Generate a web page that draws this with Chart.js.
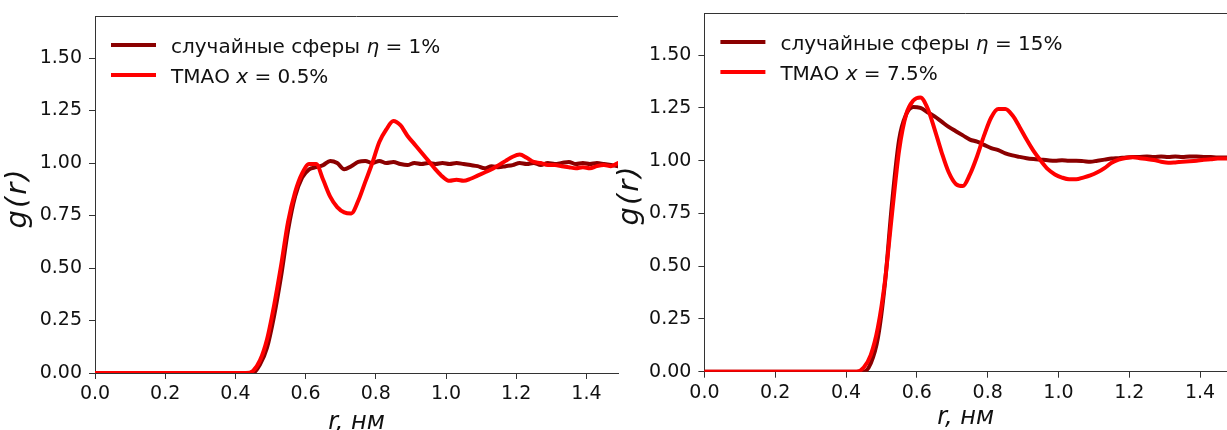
<!DOCTYPE html>
<html>
<head>
<meta charset="utf-8">
<title>g(r) – случайные сферы и ТМАО</title>
<script src="https://cdn.jsdelivr.net/npm/chart.js@4.4.1/dist/chart.umd.min.js"></script>
<style>
  html, body { margin: 0; padding: 0; background: #fff; }
  #wrap { position: relative; width: 1227px; height: 430px; overflow: hidden; }
  canvas { position: absolute; top: 0; }
  #left  { left: 0; }
  #right { left: 610px; }
</style>
</head>
<body>
<div id="wrap">
  <canvas id="left" width="620" height="430"></canvas>
  <canvas id="right" width="617" height="430"></canvas>
</div>
<script>
'use strict';

// ── Data ──────────────────────────────────────────────────────
const R_NM = [
  0, 0.1, 0.2, 0.3, 0.4, 0.43,
  0.45, 0.47, 0.49, 0.51, 0.53, 0.55, 0.57, 0.59, 0.61, 0.63,
  0.65, 0.67, 0.69, 0.71, 0.73, 0.75, 0.77, 0.79, 0.81, 0.83,
  0.85, 0.87, 0.89, 0.91, 0.93, 0.95, 0.97, 0.99, 1.01, 1.03,
  1.05, 1.07, 1.09, 1.11, 1.13, 1.15, 1.17, 1.19, 1.21, 1.23,
  1.25, 1.27, 1.29, 1.31, 1.33, 1.35, 1.37, 1.39, 1.41, 1.43,
  1.45, 1.47, 1.49,
];

// left panel: random spheres eta = 1%, TMAO x = 0.5%
const G_SPHERES_1 = [
  0, 0, 0, 0, 0, 0,
  0.0, 0.04, 0.12, 0.27, 0.46, 0.68, 0.84, 0.93, 0.97, 0.98,
  0.99, 1.01, 1.0, 0.97, 0.985, 1.005, 1.01, 1.0, 1.01, 1.0,
  1.005, 0.995, 0.99, 1.0, 0.995, 1.0, 0.995, 1.0, 0.995, 1.0,
  0.995, 0.99, 0.985, 0.975, 0.985, 0.98, 0.985, 0.99, 1.0, 0.995,
  1.0, 0.99, 1.0, 0.995, 1.0, 1.005, 0.995, 1.0, 0.995, 1.0,
  0.995, 0.99, 0.985,
];
const G_TMAO_05 = [
  0, 0, 0, 0, 0, 0,
  0.01, 0.06, 0.16, 0.32, 0.51, 0.72, 0.86, 0.95, 0.995, 0.995,
  0.92, 0.84, 0.79, 0.765, 0.76, 0.82, 0.91, 1.0, 1.10, 1.16,
  1.20, 1.18, 1.13, 1.09, 1.05, 1.01, 0.97, 0.935, 0.915, 0.92,
  0.915, 0.925, 0.94, 0.955, 0.97, 0.99, 1.01, 1.03, 1.04, 1.025,
  1.005, 1.0, 0.99, 0.99, 0.985, 0.98, 0.975, 0.98, 0.975, 0.985,
  0.99, 0.985, 1.0,
];

// right panel: random spheres eta = 15%, TMAO x = 7.5%
const G_SPHERES_15 = [
  0, 0, 0, 0, 0, 0,
  0.0, 0.04, 0.16, 0.42, 0.80, 1.10, 1.22, 1.255, 1.25, 1.23,
  1.21, 1.185, 1.16, 1.14, 1.12, 1.10, 1.09, 1.075, 1.06, 1.05,
  1.035, 1.025, 1.018, 1.012, 1.008, 1.005, 1.002, 1.0, 1.002, 1.0,
  1.0, 0.998, 0.995, 1.0, 1.005, 1.01, 1.012, 1.015, 1.017, 1.018,
  1.02, 1.018, 1.02, 1.017, 1.02, 1.018, 1.02, 1.02, 1.018, 1.017,
  1.015, 1.015, 1.015,
];
const G_TMAO_75 = [
  0, 0, 0, 0, 0, 0,
  0.02, 0.08, 0.21, 0.43, 0.75, 1.05, 1.22, 1.285, 1.30, 1.25,
  1.15, 1.04, 0.945, 0.89, 0.88, 0.935, 1.02, 1.12, 1.205, 1.245,
  1.245, 1.215, 1.16, 1.10, 1.045, 1.0, 0.96, 0.935, 0.92, 0.912,
  0.912, 0.92, 0.93, 0.945, 0.965, 0.99, 1.005, 1.013, 1.016, 1.012,
  1.008, 1.003, 0.995, 0.99, 0.992, 0.995, 0.997, 1.0, 1.005, 1.007,
  1.01, 1.01, 1.01,
];

const X_TICKS = [0, 0.2, 0.4, 0.6, 0.8, 1.0, 1.2, 1.4];
const Y_TICKS = [0, 0.25, 0.5, 0.75, 1.0, 1.25, 1.5];

const LEGEND_LEFT  = [['случайные сферы ', 'η', ' = 1%'], ['ТМАО ', 'x', ' = 0.5%']];
const LEGEND_RIGHT = [['случайные сферы ', 'η', ' = 15%'], ['ТМАО ', 'x', ' = 7.5%']];

const X_TITLE = 'r, нм';
const Y_TITLE = 'g(r)';

// ── Styles ────────────────────────────────────────────────────
const DARK  = '#8b0000';
const RED   = '#ff0000';
const AXIS  = '#333333';
const TEXT  = '#111111';
const FONT  = '"DejaVu Sans", sans-serif';

function pts(xs, ys) { return xs.map((x, i) => ({ x, y: ys[i] })); }

// top spine, axis titles and the mixed-style legend
const panelDecor = {
  id: 'panelDecor',
  afterDraw(chart, args, o) {
    const { ctx, chartArea: a } = chart;
    ctx.save();
    ctx.strokeStyle = AXIS;
    ctx.lineWidth = 1;
    ctx.beginPath();
    ctx.moveTo(a.left, Math.round(a.top) + 0.5);
    ctx.lineTo(a.right, Math.round(a.top) + 0.5);
    ctx.stroke();

    ctx.fillStyle = TEXT;
    ctx.textAlign = 'center';
    ctx.textBaseline = 'alphabetic';
    ctx.font = `italic 24px ${FONT}`;
    ctx.fillText(X_TITLE, (a.left + a.right) / 2, o.xTitleY);

    ctx.save();
    ctx.translate(o.yTitleX, o.yTitleY);
    ctx.rotate(-Math.PI / 2);
    ctx.textBaseline = 'middle';
    ctx.font = `italic 29px ${FONT}`;
    ctx.letterSpacing = '2px';
    ctx.fillText(Y_TITLE, 0, 0);
    ctx.restore();

    // legend
    const colors = [DARK, RED];
    ctx.lineWidth = 4;
    ctx.textAlign = 'left';
    o.legend.forEach((parts, i) => {
      const y = a.top + 29 + i * 30;
      ctx.strokeStyle = colors[i];
      ctx.beginPath();
      ctx.moveTo(a.left + 16, y);
      ctx.lineTo(a.left + 61, y);
      ctx.stroke();
      let x = a.left + 76;
      parts.forEach((t, k) => {
        ctx.font = (k === 1 ? 'italic ' : '') + `20px ${FONT}`;
        ctx.fillText(t, x, y + 7.5);
        x += ctx.measureText(t).width;
      });
    });
    ctx.restore();
  },
};

function buildPanel(canvasId, cfg) {
  const ctx = document.getElementById(canvasId).getContext('2d');
  return new Chart(ctx, {
    type: 'line',
    data: {
      datasets: [
        { label: cfg.legend[0].join(''), data: pts(R_NM, cfg.spheres), borderColor: DARK, order: 1 },
        { label: cfg.legend[1].join(''), data: pts(R_NM, cfg.tmao),    borderColor: RED,  order: 0 },
      ],
    },
    options: {
      responsive: false,
      animation: false,
      devicePixelRatio: 1,
      layout: { padding: { top: cfg.top, right: cfg.right, left: 0, bottom: 0 } },
      elements: {
        point: { radius: 0 },
        line: { borderWidth: 4, cubicInterpolationMode: 'monotone', borderJoinStyle: 'round', borderCapStyle: 'round', fill: false },
      },
      plugins: {
        legend: { display: false },
        tooltip: { enabled: false },
        panelDecor: { legend: cfg.legend, xTitleY: cfg.xTitleY, yTitleX: cfg.yTitleX, yTitleY: cfg.yTitleY },
      },
      scales: {
        x: {
          type: 'linear',
          min: 0,
          max: cfg.xMax,
          afterFit: (s) => { s.height = cfg.xAxisH; s.paddingLeft = 0; s.paddingRight = 0; },
          afterBuildTicks: (s) => { s.ticks = X_TICKS.map((v) => ({ value: v })); },
          border: { display: true, color: AXIS, width: 1 },
          grid: { display: true, drawOnChartArea: false, drawTicks: true, tickLength: 6, color: AXIS },
          ticks: { color: TEXT, padding: 4, font: { family: FONT, size: 19 }, maxRotation: 0, callback: (v) => v.toFixed(1) },
        },
        y: {
          type: 'linear',
          min: 0,
          max: 1.7,
          afterFit: (s) => { s.width = cfg.yAxisW; s.paddingTop = 0; s.paddingBottom = 0; },
          afterBuildTicks: (s) => { s.ticks = Y_TICKS.map((v) => ({ value: v })); },
          border: { display: true, color: AXIS, width: 1 },
          grid: { display: true, drawOnChartArea: false, drawTicks: true, tickLength: 6, color: AXIS },
          ticks: { color: TEXT, padding: 7, font: { family: FONT, size: 19 }, callback: (v) => v.toFixed(2) },
        },
      },
    },
    plugins: [panelDecor],
  });
}

buildPanel('left', {
  spheres: G_SPHERES_1, tmao: G_TMAO_05, legend: LEGEND_LEFT,
  top: 16, right: 2, xMax: 1.49, xAxisH: 57, yAxisW: 95,
  xTitleY: 429, yTitleX: 18, yTitleY: 198,
});

buildPanel('right', {
  spheres: G_SPHERES_15, tmao: G_TMAO_75, legend: LEGEND_RIGHT,
  top: 13, right: 0, xMax: 1.476, xAxisH: 58.3, yAxisW: 94.4,
  xTitleY: 424, yTitleX: 20, yTitleY: 195,
});
</script>
</body>
</html>
